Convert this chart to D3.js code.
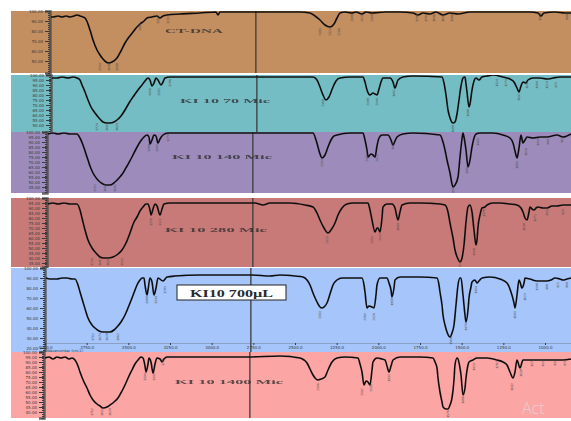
<!DOCTYPE html>
<html>
<head>
<meta charset="utf-8">
<title>FTIR spectra - CT-DNA and KI 10</title>
<script src="https://d3js.org/d3.v7.min.js"></script>
<style>
    body { margin: 0; background: #fff; }
    svg { display: block; }
    .axis text { font-family: "DejaVu Sans", sans-serif; fill: #3a3a3a; }
    .axis line { stroke: #3a3a3a; }
    .axis path { stroke: #4a4a4a; }
    .name { font-family: "Liberation Serif", serif; font-weight: bold; fill: #2a2a2a; }
    .peak { font-family: "DejaVu Sans", sans-serif; font-size: 3px; fill: #4a4a4a; }
</style>
</head>
<body>
<script>
    // spectra as [wavenumber (cm-1), transmittance]
    var ctDna = [[3994,94],[3982,94],[3952,95],[3928,94],[3904,95],[3880,94],[3856,95],[3838,96],[3820,95],[3802,94],
        [3790,93],[3772,87],[3760,81],[3742,71],[3718,61],[3700,56],[3682,52],[3664,49],[3646,48],[3628,49],[3598,53],
        [3574,60],[3550,68],[3526,74],[3502,79],[3478,84],[3460,87],[3436,90],[3418,93],[3388,94],[3358,95],[3340,93],
        [3322,95],[3298,96],[3220,97],[3100,98],[3004,99],[2992,96],[2980,99],[2860,99],[2758,99],[2620,99],[2500,99],
        [2440,98],[2410,95],[2380,91],[2350,86],[2320,84],[2296,87],[2278,93],[2260,98],[2230,99],[2188,98],[2164,99],
        [2128,97],[2104,99],[2068,98],[1990,99],[1900,99],[1822,98],[1792,96],[1762,98],[1720,97],[1684,99],[1642,96],
        [1600,98],[1552,97],[1480,99],[1300,99],[1120,99],[1072,98],[1054,95],[1036,98],[970,99],[910,98],[874,98]];

    var ki70 = [[3994,97],[3964,97],[3934,98],[3898,97],[3868,98],[3844,97],[3826,95],[3814,90],[3796,83],[3778,75],
        [3760,68],[3736,62],[3712,57],[3688,53],[3664,52],[3646,52],[3622,53],[3604,55],[3580,59],[3556,65],[3532,72],
        [3508,78],[3478,85],[3454,90],[3436,94],[3418,97],[3406,95],[3394,89],[3382,92],[3370,97],[3358,95],[3340,90],
        [3328,93],[3316,97],[3286,98],[3106,98],[2770,98],[2566,98],[2428,98],[2404,95],[2386,88],[2368,80],[2350,75],
        [2332,78],[2308,88],[2290,94],[2266,97],[2206,98],[2128,98],[2116,93],[2104,85],[2086,80],[2068,82],[2056,81],
        [2044,80],[2032,86],[2020,93],[2008,97],[1966,97],[1948,93],[1936,87],[1918,95],[1888,98],[1828,99],[1654,98],
        [1642,92],[1630,80],[1618,65],[1606,57],[1588,52],[1576,53],[1564,61],[1552,75],[1540,89],[1528,97],[1516,98],
        [1510,91],[1504,83],[1492,68],[1486,71],[1474,85],[1462,94],[1450,97],[1432,95],[1414,98],[1384,99],[1348,100],
        [1288,98],[1246,96],[1222,93],[1204,87],[1192,83],[1180,89],[1168,93],[1150,92],[1138,95],[1108,97],[1066,97],
        [1024,96],[988,97],[946,98],[880,98]];

    var ki140 = [[3994,98],[3964,99],[3934,98],[3898,99],[3862,98],[3820,98],[3802,94],[3784,87],[3760,75],[3742,66],
        [3724,59],[3700,53],[3682,50],[3664,48],[3646,47],[3622,47],[3592,50],[3568,54],[3544,59],[3520,66],[3490,75],
        [3466,83],[3442,90],[3418,95],[3400,97],[3388,95],[3382,88],[3370,92],[3358,97],[3346,96],[3334,89],[3322,93],
        [3304,97],[3274,99],[3082,99],[2764,99],[2542,99],[2404,99],[2386,92],[2374,85],[2362,78],[2350,74],[2332,77],
        [2314,85],[2296,92],[2278,96],[2260,97],[2182,99],[2104,99],[2092,92],[2080,82],[2074,75],[2056,78],[2044,77],
        [2032,75],[2020,86],[2008,94],[1990,97],[1954,97],[1936,92],[1924,87],[1912,91],[1900,95],[1864,98],[1804,99],
        [1642,97],[1624,90],[1612,82],[1600,72],[1582,59],[1570,48],[1564,45],[1552,47],[1534,55],[1522,75],[1510,93],
        [1504,99],[1498,95],[1486,82],[1474,65],[1462,72],[1450,85],[1438,94],[1426,98],[1402,99],[1324,99],[1264,97],
        [1222,94],[1204,89],[1186,77],[1180,74],[1168,84],[1156,97],[1144,89],[1132,92],[1120,95],[1084,94],[1042,95],
        [1000,95],[940,97],[904,95],[856,98]];

    var ki280 = [[3994,94],[3964,95],[3934,94],[3898,95],[3862,94],[3820,94],[3802,88],[3790,80],[3772,68],[3754,58],
        [3730,50],[3706,45],[3682,41],[3658,40],[3634,40],[3604,41],[3574,44],[3550,48],[3526,55],[3502,65],[3478,76],
        [3460,81],[3442,87],[3424,91],[3406,94],[3394,94],[3382,88],[3376,83],[3364,89],[3352,94],[3340,92],[3322,83],
        [3310,89],[3298,94],[3262,95],[3082,95],[2842,95],[2752,95],[2704,93],[2662,95],[2542,95],[2452,93],[2404,91],
        [2380,85],[2362,78],[2338,70],[2314,65],[2296,68],[2272,75],[2254,83],[2230,90],[2200,94],[2164,95],[2074,95],
        [2062,88],[2050,78],[2032,66],[2020,70],[2014,70],[2002,66],[1990,80],[1984,91],[1960,94],[1930,94],[1912,90],
        [1894,78],[1882,86],[1870,93],[1822,95],[1762,95],[1642,94],[1612,93],[1594,86],[1582,75],[1564,60],[1552,48],
        [1534,39],[1522,36],[1510,40],[1498,53],[1486,76],[1474,91],[1462,93],[1450,86],[1438,68],[1426,53],[1420,58],
        [1414,71],[1402,83],[1390,90],[1372,91],[1360,93],[1324,95],[1282,95],[1222,94],[1180,93],[1156,90],[1144,86],
        [1132,80],[1120,78],[1108,86],[1102,91],[1090,89],[1078,88],[1066,90],[1054,91],[1024,90],[1000,90],[970,92],
        [940,92],[904,93],[856,93]];

    var ki700 = [[3994,90],[3970,89],[3928,89],[3898,90],[3868,90],[3838,89],[3820,89],[3802,83],[3790,76],[3772,66],
        [3754,56],[3742,50],[3718,43],[3700,40],[3676,37],[3652,36],[3628,36],[3610,36],[3586,38],[3568,41],[3544,46],
        [3520,53],[3502,60],[3478,70],[3460,78],[3448,83],[3430,88],[3418,90],[3406,90],[3400,83],[3388,73],[3382,78],
        [3370,90],[3358,86],[3346,73],[3334,80],[3322,90],[3292,87],[3268,91],[3220,92],[3070,93],[2890,93],[2758,93],
        [2650,92],[2590,93],[2500,92],[2452,91],[2428,88],[2410,83],[2392,75],[2368,66],[2350,61],[2338,60],[2320,62],
        [2308,65],[2290,74],[2272,83],[2248,88],[2218,90],[2158,90],[2098,90],[2086,83],[2080,76],[2068,60],[2056,62],
        [2038,61],[2026,60],[2014,73],[2008,83],[1990,90],[1948,90],[1936,85],[1924,78],[1918,71],[1906,80],[1900,88],
        [1870,91],[1750,91],[1648,90],[1636,83],[1630,76],[1618,63],[1612,53],[1600,43],[1588,36],[1570,31],[1558,35],
        [1546,43],[1534,63],[1522,83],[1510,90],[1504,90],[1492,73],[1480,53],[1474,46],[1462,58],[1456,70],[1444,81],
        [1438,86],[1420,88],[1408,85],[1396,87],[1378,90],[1330,91],[1270,89],[1228,85],[1204,76],[1186,65],[1180,60],
        [1168,73],[1156,88],[1150,86],[1138,80],[1126,85],[1120,90],[1090,89],[1048,87],[988,87],[964,88],[940,90],
        [910,89],[892,88],[868,89],[844,90]];

    var ki1400 = [[3994,94],[3970,95],[3946,93],[3922,95],[3898,94],[3874,95],[3850,93],[3832,94],[3814,92],[3796,86],
        [3784,80],[3760,70],[3742,64],[3724,57],[3706,52],[3682,48],[3664,46],[3646,44],[3622,45],[3604,47],[3580,50],
        [3556,54],[3532,61],[3514,67],[3490,76],[3472,82],[3454,88],[3436,92],[3418,95],[3406,94],[3394,86],[3388,80],
        [3376,88],[3370,94],[3358,90],[3346,79],[3334,88],[3322,94],[3304,93],[3292,90],[3280,93],[3262,95],[3184,95],
        [2944,95],[2776,95],[2584,96],[2464,94],[2440,92],[2422,89],[2404,83],[2386,77],[2368,73],[2356,72],[2338,73],
        [2314,75],[2296,82],[2272,90],[2242,94],[2194,95],[2116,94],[2104,88],[2092,80],[2080,67],[2068,71],[2056,70],
        [2044,67],[2032,82],[2026,90],[2002,94],[1972,93],[1954,92],[1942,86],[1930,80],[1918,86],[1906,92],[1864,95],
        [1744,95],[1666,94],[1654,90],[1642,84],[1636,74],[1624,60],[1612,50],[1606,45],[1588,43],[1576,43],[1564,47],
        [1552,54],[1540,72],[1534,87],[1522,94],[1516,93],[1504,84],[1498,77],[1486,57],[1474,64],[1468,74],[1456,87],
        [1450,90],[1426,92],[1402,94],[1342,94],[1282,92],[1246,90],[1222,87],[1204,80],[1186,74],[1174,80],[1162,92],
        [1144,84],[1126,92],[1084,92],[1042,92],[982,92],[934,92],[886,92],[838,93]];

    // peak labels: [wavenumber, transmittance where the label sits]
    var ctDnaPeaks = [[3700,44],[3646,44],[3598,44],[3460,84],[3352,91],[3292,91],[2380,79],[2320,79],[2266,79],
        [2188,93],[2128,93],[2068,93],[1798,93],[1744,93],[1696,93],[1642,93],[1588,93],[1060,94],[898,94]];
    var ki70Peaks = [[3724,48],[3664,48],[3604,48],[3406,83],[3352,83],[3286,92],[2368,72],[2098,73],[2044,73],
        [1942,82],[1588,46],[1498,62],[1324,92],[1270,92],[1192,78],[1144,90],[1084,90],[1024,90],[970,90]];
    var ki140Peaks = [[3712,44],[3652,44],[3592,44],[3388,84],[3340,84],[3274,94],[2350,69],[2080,74],[2020,74],
        [1924,86],[1564,40],[1480,62],[1414,90],[1180,67],[1126,80],[1054,90],[994,90],[910,92]];
    var ki280Peaks = [[3730,36],[3682,36],[3634,36],[3550,36],[3376,76],[3322,76],[2320,58],[2050,58],[2002,61],
        [1894,71],[1522,33],[1438,46],[1378,85],[1138,71],[1072,80],[1000,86],[904,86]];
    var ki700Peaks = [[3712,31],[3670,31],[3628,31],[3562,31],[3388,68],[3334,68],[3280,78],[2350,53],[2080,51],
        [2026,51],[1918,66],[1564,27],[1474,41],[1414,78],[1180,53],[1120,71],[1048,81],[988,81],[922,83],[868,83]];
    var ki1400Peaks = [[3712,40],[3652,40],[3604,40],[3394,75],[3340,75],[3286,90],[2356,65],[2092,60],[2038,64],
        [1930,74],[1576,38],[1486,52],[1420,85],[1282,87],[1192,65],[1138,79],[1072,89],[1006,89],[934,89],[874,89]];

    var panelNames = ["CT-DNA", "KI 10 70 Mic", "KI 10 140 Mic", "KI 10 280 Mic", "KI10 700\u00b5L", "KI 10 1400 Mic"];
    var panelColors = ["#c38e60", "#75bdc4", "#9d8cbb", "#c87a78", "#a5c5fb", "#fca5a5"];
    var tDomains = [[38, 100], [43, 100], [39, 100], [31, 100], [16, 100], [34, 100]];
    var wnDomain = [4000, 820];
    var wnTicks = [4000, 3750, 3500, 3250, 3000, 2750, 2500, 2250, 2000, 1750, 1500, 1250, 1000];
    var markerWn = 2765;

    var spectra = [ctDna, ki70, ki140, ki280, ki700, ki1400];
    var peaks = [ctDnaPeaks, ki70Peaks, ki140Peaks, ki280Peaks, ki700Peaks, ki1400Peaks];

    // pixel layout of the six stacked strips
    var layout = [
        {top: 11, bottom: 73, axisX: 50, ticks: 8, label: [165, 33, 58, 6]},
        {top: 75, bottom: 132, axisX: 51, ticks: 10, label: [180, 103, 90, 6]},
        {top: 132, bottom: 193, axisX: 47, ticks: 10, label: [172, 159, 100, 6]},
        {top: 198, bottom: 267, axisX: 47, ticks: 10, label: [165, 232, 102, 6]},
        {top: 268, bottom: 352, axisX: 45, ticks: 10, label: [190, 297, 83, 10], boxed: true, xAxis: true},
        {top: 352, bottom: 418, axisX: 44, ticks: 10, label: [175, 384, 108, 6]}
    ];

    var svg = d3.select("body").append("svg")
        .attr("width", 571)
        .attr("height", 421);

    var defs = svg.append("defs");
    // the source is a blurry screenshot, soften the traces a little
    defs.append("filter").attr("id", "soft")
        .append("feGaussianBlur").attr("stdDeviation", 0.3);

    spectra.forEach(function(data, i) {
        var L = layout[i];
        var x = d3.scaleLinear().domain(wnDomain).range([L.axisX, L.axisX + 530]);
        var y = d3.scaleLinear().domain(tDomains[i]).range([L.bottom, L.top]);
        var g = svg.append("g");

        g.append("rect")
            .attr("x", 11)
            .attr("y", L.top)
            .attr("width", 560)
            .attr("height", L.bottom - L.top)
            .attr("fill", panelColors[i]);

        defs.append("clipPath").attr("id", "clip" + i)
            .append("rect")
            .attr("x", 11).attr("y", L.top)
            .attr("width", 560).attr("height", L.bottom - L.top);

        // y axis, major ticks with labels plus a row of minor ones
        var majors = y.ticks(L.ticks).filter(function(t) { return y(t) <= L.bottom - 3; });
        var yAxis = g.append("g")
            .attr("class", "axis")
            .attr("transform", "translate(" + L.axisX + ",0)")
            .call(d3.axisLeft(y).tickValues(majors).tickSize(5).tickPadding(2).tickFormat(d3.format(".2f")));
        yAxis.selectAll("text").style("font-size", "4px");
        yAxis.select(".domain").attr("stroke-width", 2.4).attr("opacity", 0.85);
        g.append("g")
            .attr("class", "axis")
            .attr("transform", "translate(" + L.axisX + ",0)")
            .call(d3.axisLeft(y).ticks(L.ticks * 4).tickSize(2).tickFormat(""))
            .select(".domain").remove();

        if (L.xAxis) {
            var xAxis = g.append("g")
                .attr("class", "axis")
                .attr("transform", "translate(0," + (L.bottom - 9) + ")")
                .call(d3.axisBottom(x).tickValues(wnTicks).tickSize(2).tickPadding(1).tickFormat(d3.format(".1f")));
            xAxis.selectAll("text").style("font-size", "4px");
            xAxis.select(".domain").attr("stroke-width", 0.6).attr("opacity", 0.5);
            g.append("text")
                .attr("x", L.axisX + 2)
                .attr("y", L.bottom - 0.5)
                .style("font-family", "DejaVu Sans, sans-serif")
                .style("font-size", "3.5px")
                .attr("fill", "#3a3a3a")
                .text("Wavenumber (cm-1)");
        }

        var plot = g.append("g").attr("clip-path", "url(#clip" + i + ")");

        plot.append("line")
            .attr("x1", x(markerWn)).attr("x2", x(markerWn))
            .attr("y1", L.top).attr("y2", L.bottom)
            .attr("stroke", "#3a3a3a")
            .attr("stroke-width", 1.6)
            .attr("opacity", 0.8);

        var line = d3.line()
            .x(function(d) { return x(d[0]); })
            .y(function(d) { return y(d[1]); })
            .curve(d3.curveMonotoneX);

        plot.append("path")
            .datum(data)
            .attr("fill", "none")
            .attr("stroke", "#111")
            .attr("stroke-width", 1.6)
            .attr("stroke-linejoin", "round")
            .attr("filter", "url(#soft)")
            .attr("d", line);

        plot.selectAll(".peak")
            .data(peaks[i])
            .enter().append("text")
            .attr("class", "peak")
            .attr("text-anchor", "middle")
            .attr("transform", function(d) { return "translate(" + x(d[0]) + "," + y(d[1]) + ") rotate(-90)"; })
            .attr("dy", "1px")
            .text(function(d) { return d[0]; });

        var lb = L.label;
        if (L.boxed) {
            g.append("rect")
                .attr("x", lb[0] - 13).attr("y", lb[1] - 12)
                .attr("width", lb[2] + 26).attr("height", 15)
                .attr("fill", "#fff")
                .attr("stroke", "#222")
                .attr("stroke-width", 1);
        }
        g.append("text")
            .attr("class", "name")
            .attr("x", lb[0])
            .attr("y", lb[1])
            .attr("textLength", lb[2])
            .attr("lengthAdjust", "spacingAndGlyphs")
            .style("font-size", lb[3] + "px")
            .attr("opacity", L.boxed ? 1 : 0.75)
            .text(panelNames[i]);
    });

    // watermark left in the corner of the screenshot
    svg.append("text")
        .attr("x", 522)
        .attr("y", 414)
        .style("font-family", "Open Sans, sans-serif")
        .style("font-size", "16px")
        .style("font-weight", 300)
        .attr("fill", "#e4d0d0")
        .text("Act");
</script>
</body>
</html>
